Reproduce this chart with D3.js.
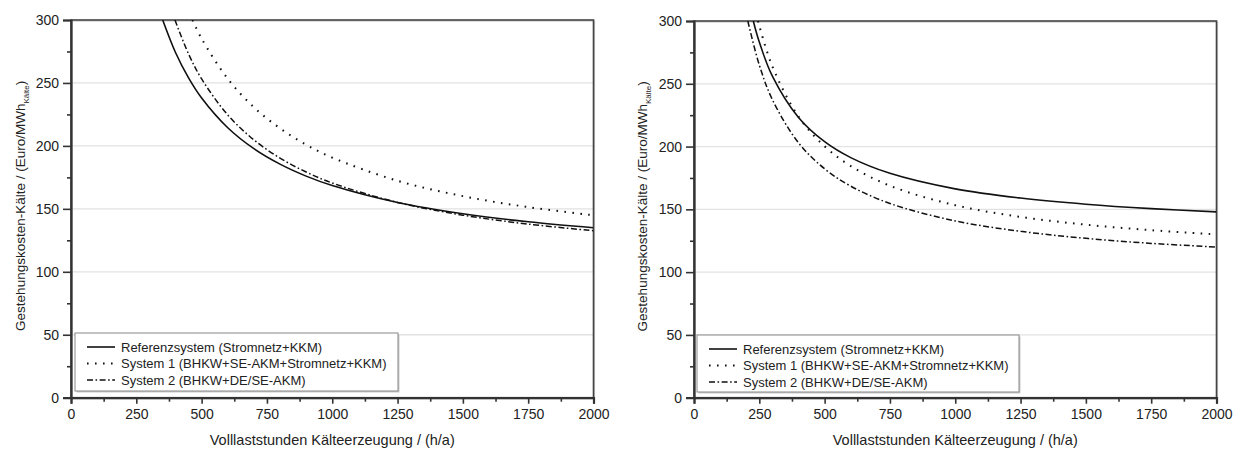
<!DOCTYPE html>
<html><head><meta charset="utf-8">
<script src="https://cdn.jsdelivr.net/npm/d3@7"></script>
<style>body{margin:0;background:#fff}svg{display:block}</style>
</head><body><svg id="c" width="1240" height="450"></svg>
<script>
const xTicks=[0,250,500,750,1000,1250,1500,1750,2000];
const xMinorTicks=[125,375,625,875,1125,1375,1625,1875];
const yTicks=[0,50,100,150,200,250,300];
const yMinorTicks=[25,75,125,175,225,275];
const gridValues=[50,100,150,200,250];
const seriesNames=["Referenzsystem (Stromnetz+KKM)","System 1 (BHKW+SE-AKM+Stromnetz+KKM)","System 2 (BHKW+DE/SE-AKM)"];
const xTitle="Volllaststunden Kälteerzeugung / (h/a)";
const yTitleMain="Gestehungskosten-Kälte / (Euro/MWh";
const yTitleSub="Kälte";

const refLeftHours=[351,400,450,500,600,700,800,900,1000,1250,1500,1750,2000];
const refLeftCost=[300,274.2,254.0,238.0,214.4,197.8,185.5,176.0,168.5,155.0,146.1,139.7,135.0];
const sys1LeftHours=[465,500,600,700,800,900,1000,1250,1500,1750,2000];
const sys1LeftCost=[300,285.2,253.3,230.7,214.0,201.0,190.7,172.3,160.1,151.4,144.9];
const sys2LeftHours=[398,450,500,600,700,800,900,1000,1250,1500,1750,2000];
const sys2LeftCost=[300,273.0,253.2,224.6,204.8,190.3,179.3,170.5,155.1,145.0,137.9,132.6];

const refRightHours=[227,250,300,400,500,600,750,1000,1250,1500,1750,2000];
const refRightCost=[300,283.2,256.1,223.2,203.9,191.2,178.7,166.3,159.0,154.1,150.6,148.0];
const sys1RightHours=[245,300,400,500,600,750,1000,1250,1500,1750,2000];
const sys1RightCost=[300,263.8,223.9,200.2,184.5,168.8,153.3,144.0,137.8,133.4,130.1];
const sys2RightHours=[206,250,300,400,500,600,750,1000,1250,1500,1750,2000];
const sys2RightCost=[300,264.9,237.4,203.0,182.3,168.5,154.7,140.8,132.5,126.9,122.9,120.0];

const styles=[
  {dash:null,width:1.6,cap:"butt"},
  {dash:"1.6,6.4",width:2,cap:"butt"},
  {dash:"6,2.5,1.6,2.5",width:1.5,cap:"butt"}
];

const panels=[
  {x0:71,x1:593.5,yTop:20,yBot:397.7,labelX:20,legend:{x:75,y:333,w:323,h:58},
   series:[[refLeftHours,refLeftCost],[sys1LeftHours,sys1LeftCost],[sys2LeftHours,sys2LeftCost]]},
  {x0:694,x1:1216.5,yTop:21,yBot:397.7,labelX:642,legend:{x:697,y:335,w:322,h:57},
   series:[[refRightHours,refRightCost],[sys1RightHours,sys1RightCost],[sys2RightHours,sys2RightCost]]}
];

const svg=d3.select("#c");
const FONT="'Liberation Sans', Arial, sans-serif";
const ink="#222";

panels.forEach((p,pi)=>{
  const x=d3.scaleLinear().domain([0,2000]).range([p.x0,p.x1]);
  const y=d3.scaleLinear().domain([0,300]).range([p.yBot,p.yTop]);
  const g=svg.append("g");
  const clipId="clip"+pi;
  svg.append("clipPath").attr("id",clipId).append("rect")
    .attr("x",p.x0).attr("y",p.yTop).attr("width",p.x1-p.x0).attr("height",p.yBot-p.yTop);

  g.selectAll(".grid").data(gridValues).enter().append("line")
    .attr("x1",p.x0).attr("x2",p.x1).attr("y1",d=>y(d)).attr("y2",d=>y(d))
    .attr("stroke","#e2e2e2").attr("stroke-width",1.3);

  g.append("rect").attr("x",p.x0+1).attr("y",p.yTop+1).attr("width",p.x1-p.x0).attr("height",p.yBot-p.yTop)
    .attr("fill","none").attr("stroke","#c8c8c8").attr("stroke-width",1.2);
  g.append("rect").attr("x",p.x0).attr("y",p.yTop).attr("width",p.x1-p.x0).attr("height",p.yBot-p.yTop)
    .attr("fill","none").attr("stroke","#444").attr("stroke-width",1.6);

  const line=d3.line().x(d=>x(d[0])).y(d=>y(d[1])).curve(d3.curveCatmullRom.alpha(0.5));
  const lg=g.append("g").attr("clip-path",`url(#${clipId})`);
  p.series.forEach((s,i)=>{
    const pts=s[0].map((h,k)=>[h,s[1][k]]);
    lg.append("path").attr("d",line(pts)).attr("fill","none")
      .attr("stroke","#111").attr("stroke-width",styles[i].width)
      .attr("stroke-dasharray",styles[i].dash).attr("stroke-linecap",styles[i].cap);
  });

  const fmt=d3.format("d");
  const yAx=g.append("g").attr("transform",`translate(${p.x0},0)`)
    .call(d3.axisLeft(y).tickValues(yTicks).tickFormat(fmt).tickSize(8).tickPadding(4));
  const yMin=g.append("g").attr("transform",`translate(${p.x0},0)`)
    .call(d3.axisLeft(y).tickValues(yMinorTicks).tickSize(4).tickFormat(""));
  const xAx=g.append("g").attr("transform",`translate(0,${p.yBot})`)
    .call(d3.axisBottom(x).tickValues(xTicks).tickFormat(fmt).tickSize(6).tickPadding(5));
  const xMin=g.append("g").attr("transform",`translate(0,${p.yBot})`)
    .call(d3.axisBottom(x).tickValues(xMinorTicks).tickSize(4).tickFormat(""));
  [yAx,yMin,xAx,xMin].forEach(a=>{
    a.select(".domain").attr("stroke","#333").attr("stroke-width",2.2);
    a.selectAll(".tick line").attr("stroke","#333").attr("stroke-width",1.6);
    a.selectAll("text").attr("font-family",FONT).attr("font-size",14).attr("fill",ink);
  });
  yMin.select(".domain").remove(); xMin.select(".domain").remove();

  g.append("text").attr("x",(p.x0+p.x1)/2).attr("y",445).attr("text-anchor","middle")
    .attr("font-family",FONT).attr("font-size",14.5).attr("fill",ink).text(xTitle);
  const yt=g.append("text").attr("transform",`translate(${p.labelX+5},${(p.yTop+p.yBot)/2-3}) rotate(-90)`)
    .attr("text-anchor","middle").attr("font-family",FONT).attr("font-size",13.5).attr("fill",ink);
  yt.append("tspan").text(yTitleMain);
  yt.append("tspan").attr("font-size",8).attr("dy",4).text(yTitleSub);
  yt.append("tspan").attr("dy",-4).text(")");

  const L=p.legend;
  g.append("rect").attr("x",L.x+1.5).attr("y",L.y+1.5).attr("width",L.w).attr("height",L.h)
    .attr("fill","#ccc");
  g.append("rect").attr("x",L.x).attr("y",L.y).attr("width",L.w).attr("height",L.h)
    .attr("fill","#fff").attr("stroke","#888").attr("stroke-width",1);
  seriesNames.forEach((n,i)=>{
    const cy=L.y+14+i*16.5;
    g.append("line").attr("x1",L.x+12).attr("x2",L.x+40).attr("y1",cy).attr("y2",cy)
      .attr("stroke","#111").attr("stroke-width",styles[i].width).attr("stroke-dasharray",styles[i].dash);
    g.append("text").attr("x",L.x+46).attr("y",cy+4.5).attr("font-family",FONT).attr("font-size",13)
      .attr("fill",ink).text(n);
  });
});
</script></body></html>
